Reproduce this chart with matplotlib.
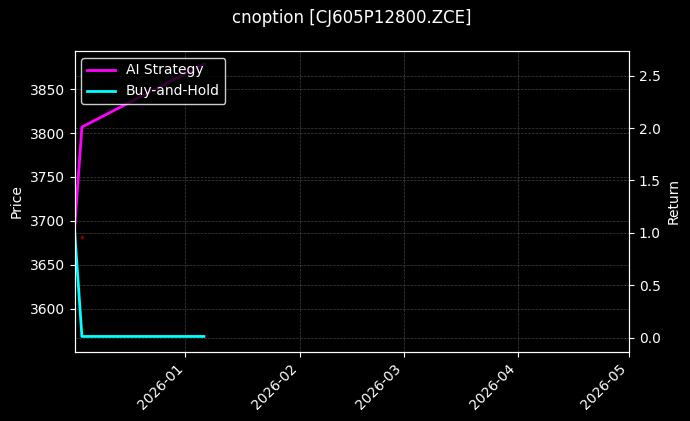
import matplotlib
matplotlib.use("Agg")
import matplotlib.pyplot as plt
import matplotlib.dates as mdates
import pandas as pd

# data
dates = pd.to_datetime(["2025-12-02", "2025-12-04", "2026-01-06"])
ai_strategy = [1.03, 2.01, 2.61]
buy_and_hold = [1.03, 0.01, 0.01]
signal_dates = pd.to_datetime(["2025-12-04"])
signal_values = [0.958]

symbol = "CJ605P12800.ZCE"
x_range = pd.to_datetime(["2025-12-02", "2026-05-01"])
price_range = (3551, 3893.6)
return_range = (-0.134, 2.736)

plt.style.use("dark_background")

fig, ax1 = plt.subplots(figsize=(6.9, 4.21), dpi=100)
fig.subplots_adjust(left=0.108, right=0.9116, top=0.879, bottom=0.165)

ax1.set_ylabel("Price")
ax1.set_ylim(*price_range)
ax1.grid(True, linestyle="--", linewidth=0.5, color="gray", alpha=0.5)

ax2 = ax1.twinx()
ax2.plot(dates, ai_strategy, color="#ff00ff", linewidth=2, label="AI Strategy")
ax2.plot(dates, buy_and_hold, color="#00ffff", linewidth=2, label="Buy-and-Hold")
ax2.scatter(signal_dates, signal_values, color="red", s=3, alpha=0.4, zorder=1)
ax2.set_ylabel("Return")
ax2.set_ylim(*return_range)
ax2.grid(True, axis="y", linestyle="--", linewidth=0.5, color="gray", alpha=0.5)

ax1.set_xlim(x_range[0], x_range[1])
ax1.xaxis.set_major_locator(mdates.MonthLocator())
ax1.xaxis.set_major_formatter(mdates.DateFormatter("%Y-%m"))
for lbl in ax1.get_xticklabels():
    lbl.set_rotation(45)
    lbl.set_ha("right")

ax1.set_title(f"cnoption [{symbol}]", pad=20)
ax2.legend(loc="upper left", facecolor="black", edgecolor="white")

fig.savefig("out.png", dpi=100)
